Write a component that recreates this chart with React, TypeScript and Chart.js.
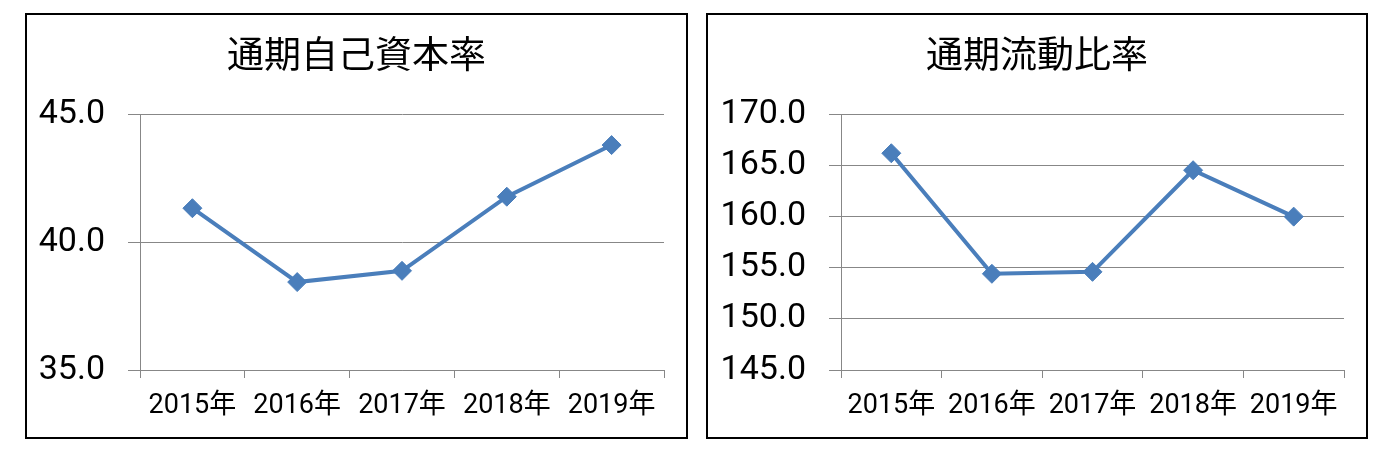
import React, { useEffect, useRef } from "react";
import { Chart, registerables } from "chart.js";

Chart.register(...registerables);

const categories = ["2015年", "2016年", "2017年", "2018年", "2019年"];
const equityRatio = [41.33, 38.44, 38.88, 41.78, 43.8];
const currentRatio = [166.2, 154.41, 154.6, 164.54, 160.0];

const equityTitle = "通期自己資本率";
const currentTitle = "通期流動比率";

const LINE_COLOR = "#4a7ebb";
const GRID_COLOR = "#878787";

type ChartBoxProps = {
  title: string;
  values: number[];
  min: number;
  max: number;
  left: number;
  width: number;
  yAxisWidth: number;
};

function ChartBox({ title, values, min, max, left, width, yAxisWidth }: ChartBoxProps) {
  const ref = useRef<HTMLCanvasElement | null>(null);
  const innerW = width - 4;
  const innerH = 422;

  useEffect(() => {
    if (!ref.current) return;
    const chart = new Chart(ref.current, {
      type: "line",
      data: {
        labels: categories,
        datasets: [
          {
            data: values,
            borderColor: LINE_COLOR,
            backgroundColor: LINE_COLOR,
            borderWidth: 4,
            pointStyle: "rectRot",
            pointRadius: 9.5,
            pointBorderWidth: 1,
            pointBorderColor: LINE_COLOR,
            pointBackgroundColor: LINE_COLOR,
            tension: 0,
            yAxisID: "y",
          },
        ],
      },
      options: {
        responsive: false,
        animation: false,
        layout: { padding: 0 },
        plugins: {
          legend: { display: false },
          tooltip: { enabled: false },
          title: {
            display: true,
            text: title,
            color: "#000",
            font: { family: "'Noto Sans CJK JP'", size: 37, weight: "normal", lineHeight: 1.2 },
            padding: { top: 17, bottom: 38 },
          },
        },
        scales: {
          x: {
            type: "category",
            offset: true,
            grid: {
              display: true,
              offset: true,
              drawOnChartArea: false,
              drawTicks: true,
              tickLength: 8,
              color: GRID_COLOR,
            },
            border: { display: true, color: GRID_COLOR, width: 1 },
            ticks: {
              color: "#000",
              padding: 12,
              maxRotation: 0,
              autoSkip: false,
              font: { family: "Roboto, 'Noto Sans CJK JP'", size: 27 },
            },
            afterFit: (scale: any) => {
              scale.height = 67;
            },
          },
          y: {
            position: "left",
            min,
            max,
            grid: {
              color: GRID_COLOR,
              tickLength: 12,
              drawTicks: true,
            },
            border: { display: true, color: GRID_COLOR, width: 1 },
            ticks: {
              stepSize: 5,
              color: "#000",
              padding: 23,
              font: { family: "Roboto", size: 34 },
              callback: (v: any) => Number(v).toFixed(1),
            },
            afterFit: (scale: any) => {
              scale.width = yAxisWidth;
            },
          },
          spacer: {
            type: "linear",
            position: "right",
            min,
            max,
            grid: { display: false, drawTicks: false },
            border: { display: false },
            ticks: { display: false },
            afterFit: (scale: any) => {
              scale.width = 22;
            },
          },
        },
      },
    });
    return () => chart.destroy();
  }, []);

  return (
    <div
      style={{
        position: "absolute",
        left,
        top: 5,
        width,
        height: 426,
        border: "2px solid #000",
        boxSizing: "border-box",
        background: "#fff",
      }}
    >
      <canvas ref={ref} width={innerW} height={innerH} style={{ display: "block" }} />
    </div>
  );
}

export default function App() {
  return (
    <div style={{ position: "relative", width: 1376, height: 437 }}>
      <ChartBox title={equityTitle} values={equityRatio} min={35} max={45} left={17} width={663} yAxisWidth={113} />
      <ChartBox title={currentTitle} values={currentRatio} min={145} max={170} left={698} width={662} yAxisWidth={133} />
    </div>
  );
}
